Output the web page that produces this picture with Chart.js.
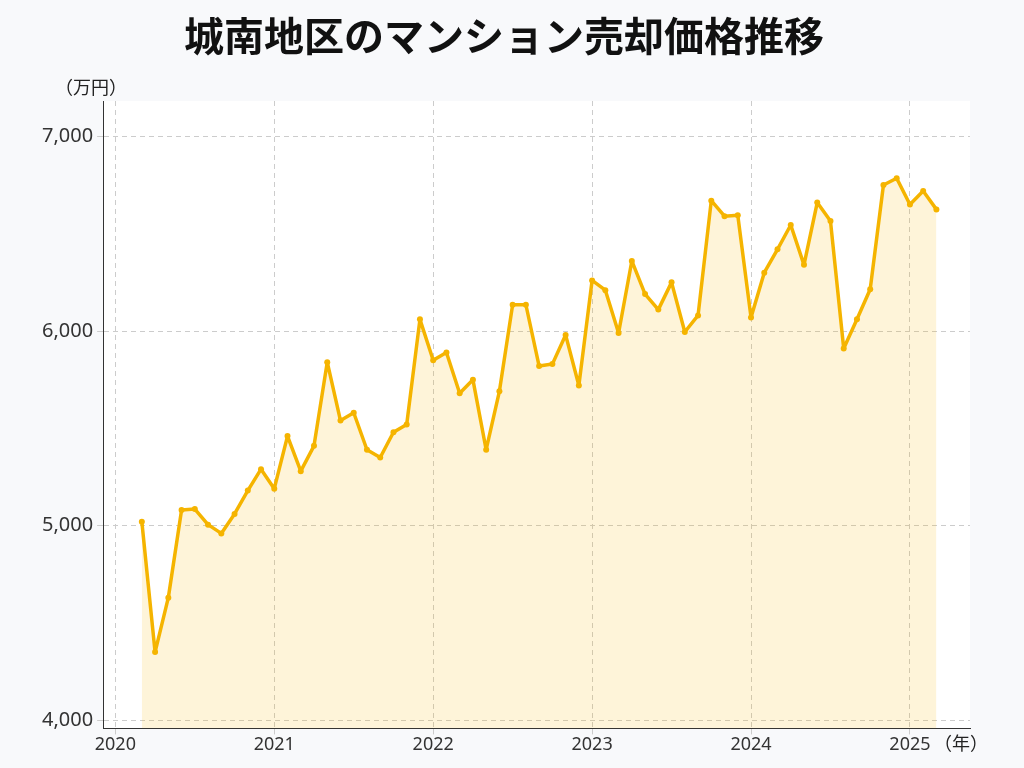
<!DOCTYPE html>
<html>
<head>
<meta charset="utf-8">
<script src="https://cdn.jsdelivr.net/npm/chart.js@4/dist/chart.umd.min.js"></script>
<style>
  html, body { margin: 0; padding: 0; background: #f8f9fb; }
  #wrap { width: 1024px; height: 768px; }
</style>
</head>
<body>
<div id="wrap"><canvas id="grafico" width="1024" height="768"></canvas></div>
<script>
// 2020年3月〜2025年3月 月次
const inicioAnio = 2020;
const inicioMes = 3;
const precios = [
  5020, 4350, 4630, 5080, 5085, 5005, 4960, 5060, 5180, 5290,
  5190, 5460, 5280, 5410, 5840, 5540, 5580, 5390, 5350, 5480, 5520, 6060,
  5850, 5890, 5680, 5750, 5390, 5690, 6135, 6135, 5820, 5830, 5980, 5720,
  6260, 6210, 5990, 6360, 6190, 6110, 6250, 5995, 6080, 6670, 6590, 6595,
  6070, 6300, 6420, 6545, 6340, 6660, 6565, 5910, 6060, 6215, 6750, 6785,
  6650, 6720, 6625
];
const ticksAnio = [2020, 2021, 2022, 2023, 2024, 2025];
const ticksPrecio = [4000, 5000, 6000, 7000];

const puntos = precios.map((v, i) => ({ x: inicioAnio + (inicioMes - 1 + i) / 12, y: v }));

const fuente = "'Noto Sans CJK JP', 'Noto Sans', sans-serif";
const fuenteNum = "'Noto Sans', 'DejaVu Sans', sans-serif";

const fondoPlugin = {
  id: 'fondo',
  beforeDraw(chart) {
    const { ctx, chartArea: a } = chart;
    ctx.save();
    ctx.fillStyle = '#ffffff';
    ctx.fillRect(a.left, a.top, a.right - a.left, a.bottom - a.top);
    ctx.restore();
  },
  afterDraw(chart) {
    const { ctx, chartArea: a } = chart;
    ctx.save();
    ctx.fillStyle = '#222';
    ctx.font = '18px ' + fuente;
    ctx.textBaseline = 'middle';
    ctx.textAlign = 'left';
    ctx.fillText('（万円）', a.left - 48, a.top - 14);
    ctx.fillText('（年）', a.right - 36, a.bottom + 15);
    ctx.restore();
  }
};

new Chart(document.getElementById('grafico'), {
  type: 'line',
  data: {
    datasets: [{
      data: puntos,
      borderColor: '#f5b400',
      backgroundColor: 'rgba(245, 180, 0, 0.15)',
      borderWidth: 3.5,
      borderJoinStyle: 'round',
      pointRadius: 3,
      pointBackgroundColor: '#f5b400',
      pointBorderWidth: 0,
      fill: 'origin',
      tension: 0
    }]
  },
  options: {
    responsive: false,
    animation: false,
    layout: { padding: { left: 38, right: 54, top: 0, bottom: 12 } },
    plugins: {
      legend: { display: false },
      tooltip: { enabled: false },
      title: {
        display: true,
        text: '城南地区のマンション売却価格推移',
        color: '#111',
        font: { family: fuente, size: 40, weight: 'bold' },
        padding: { top: 12, bottom: 41 }
      }
    },
    scales: {
      x: {
        type: 'linear',
        min: 2019.923,
        max: 2025.378,
        afterBuildTicks: s => { s.ticks = ticksAnio.map(v => ({ value: v })); },
        ticks: { color: '#333', font: { family: fuenteNum, size: 18 }, callback: v => String(v), padding: 0 },
        grid: { color: '#cccccc', tickLength: 6 },
        border: { display: true, color: '#333', width: 1, dash: [5, 4] }
      },
      y: {
        min: 3958,
        max: 7182,
        afterBuildTicks: s => { s.ticks = ticksPrecio.map(v => ({ value: v })); },
        ticks: { color: '#333', font: { family: fuenteNum, size: 20 }, callback: v => v.toLocaleString('en-US'), padding: 4 },
        grid: { color: '#cccccc', tickLength: 6 },
        border: { display: true, color: '#333', width: 1, dash: [5, 4] }
      }
    }
  },
  plugins: [fondoPlugin]
});
</script>
</body>
</html>
